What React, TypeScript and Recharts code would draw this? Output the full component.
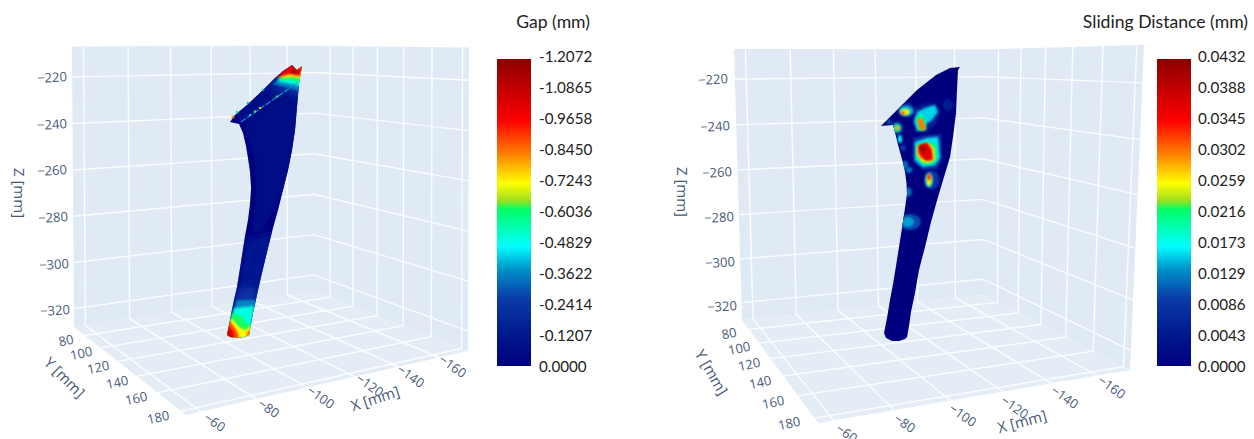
import React from 'react';
import { ComposedChart, Scatter, XAxis, YAxis } from 'recharts';

const WIDTH = 1254;
const HEIGHT = 439;

// tick values of the 3D scene
const xTicks = [-60, -80, -100, -120, -140, -160];
const yTicks = [80, 100, 120, 140, 160, 180];
const zTicks = [-220, -240, -260, -280, -300, -320];

const gapBarLabels = ['-1.2072', '-1.0865', '-0.9658', '-0.8450', '-0.7243', '-0.6036', '-0.4829', '-0.3622', '-0.2414', '-0.1207', '0.0000'];
const slidingBarLabels = ['0.0432', '0.0388', '0.0345', '0.0302', '0.0259', '0.0216', '0.0173', '0.0129', '0.0086', '0.0043', '0.0000'];

// jet scale (0 = bottom, 1 = top)
const jetStops: [number, string][] = [
  [0, '#00007f'], [0.11, '#001a90'], [0.22, '#0a3ca8'], [0.313, '#0090c8'], [0.39, '#00ffff'],
  [0.51, '#00ff66'], [0.54, '#9fe020'], [0.595, '#ffff00'], [0.69, '#ff8000'], [0.8, '#ff0000'], [1, '#8b0000'],
];

// projected outline of the stem, on the image plane
const gapOutline = [[302, 66], [297, 70], [292, 65], [283, 71], [275, 78], [263, 90], [247, 105], [235, 115], [230, 122], [239, 124], [243, 133], [246, 146], [248, 158], [250, 172], [251, 188], [250, 204], [248, 220], [245, 236], [241, 262], [237, 287], [234, 300], [231, 314], [229, 325], [227, 335], [230, 337], [237, 338], [244, 337], [249, 335], [253, 313], [257, 295], [261, 277], [267, 252], [273, 228], [278, 210], [283, 190], [288, 170], [292, 150], [295, 130], [297, 107], [299, 83]];
const slidingOutline = [[960, 67], [950, 68], [936, 75], [917, 90], [897, 110], [881, 126], [893, 125], [895, 132], [897, 141], [900, 152], [903, 163], [905, 172], [906.5, 183], [907, 194], [905, 208], [902, 228], [899, 247], [896, 266], [893, 284], [890, 300], [887, 318], [884, 333], [886, 338], [892, 341], [899, 341], [905, 339], [907, 337], [909, 326], [911, 312], [915, 293], [919, 270], [925, 247], [931, 222], [938, 197], [944, 177], [950, 157], [953, 137], [956, 113], [957, 90], [958, 70]];

const gapPatches = [
  { value: -0.04, blur: 'wide', points: [[244, 122], [300, 80], [300, 170], [283, 192], [262, 232], [252, 232], [256, 190], [254, 160]] },
  { value: -0.08, points: [[235, 116], [275, 78], [296, 68], [298, 84], [242, 122]] },
  { value: -0.13, blur: 'wide', points: [[246, 240], [274, 232], [264, 282], [236, 296]] },
  { value: -0.24, blur: 'wide', points: [[238, 288], [260, 286], [254, 315], [232, 315]] },
  { value: -0.36, points: [[237, 300], [256, 300], [254, 320], [231, 320]] },
  { value: -0.5, points: [[234, 308], [254, 306], [252, 325], [244, 328], [231, 322]] },
  { value: -0.62, points: [[232, 313], [243, 317], [246, 325], [252, 322], [250, 338], [228, 338]] },
  { value: -0.72, points: [[231, 318], [240, 328], [246, 330], [251, 325], [250, 338], [227, 338]] },
  { value: -0.9, points: [[229, 320], [237, 331], [239, 338], [226, 338]] },
  { value: -0.9, points: [[248, 332], [252, 328], [251, 338], [246, 338]] },
  { value: -1.05, points: [[227, 324], [233, 332], [234, 338], [225, 338]] },
  { value: -0.24, blur: 'wide', points: [[268, 90], [302, 68], [302, 100], [290, 92]] },
  { value: -0.36, points: [[272, 84], [302, 68], [302, 92], [290, 88]] },
  { value: -0.5, points: [[276, 81], [302, 66], [302, 87], [292, 84]] },
  { value: -0.62, points: [[277, 79], [302, 66], [302, 83], [292, 80]] },
  { value: -0.75, points: [[277, 78], [302, 64], [302, 79], [293, 77]] },
  { value: -1.0, points: [[277, 77], [291, 63], [297, 69], [304, 63], [300, 76], [290, 74]] },
  { value: -1.15, points: [[291, 68], [298, 71], [296, 74], [290, 72]] },
];

// edge of the top face
const gapRimLine = { value: -0.38, points: [[241, 122], [297, 83]] };
const gapRimSpots = [
  { value: -0.55, px: 250, py: 115, r: 1.1 },
  { value: -0.65, px: 255, py: 111.5, r: 1.2 }, { value: -0.78, px: 260, py: 108, r: 1.3 },
  { value: -0.62, px: 277, py: 96.5, r: 1.2 }, { value: -0.85, px: 233, py: 117, r: 1.6 },
  { value: -0.6, px: 237, py: 112, r: 1.5 }, { value: -0.4, px: 248, py: 103, r: 1.3 },
  { value: -0.4, px: 263, py: 90, r: 1.3 },
];

const gapSpots: { value: number; px: number; py: number; rx: number; ry: number }[] = [];

const slidingPatches = [
  { value: 0.006, points: [[915, 108], [925, 104], [935, 103], [940, 112], [935, 125], [926, 132], [916, 132], [913, 120]] },
  { value: 0.0155, points: [[917, 112], [925, 108], [935, 105], [938, 112], [932, 120], [925, 125], [924, 130], [917, 130], [914, 122]] },
  { value: 0.021, points: [[916, 118], [922, 114], [926, 122], [926, 130], [918, 131]] },
  { value: 0.03, points: [[917, 119], [922, 118], [926, 128], [923, 131], [919, 128]] },
  { value: 0.008, points: [[913, 138], [927, 135], [941, 134], [942, 160], [937, 169], [923, 170], [913, 162]] },
  { value: 0.016, points: [[915, 142], [927, 138], [938, 137], [940, 158], [935, 165], [923, 167], [915, 160]] },
  { value: 0.022, points: [[917, 145], [928, 142], [936, 145], [937, 158], [932, 164], [923, 164], [917, 157]] },
  { value: 0.026, points: [[917, 146], [928, 143], [934, 148], [935, 160], [928, 163], [922, 162], [917, 155]] },
  { value: 0.033, points: [[918, 146], [927, 143], [932, 149], [933, 160], [927, 161], [921, 158], [918, 153]] },
  { value: 0.037, points: [[919, 145], [927, 143], [931, 150], [932, 159], [925, 160], [920, 153]] },
  { value: 0.042, points: [[919, 147], [925, 145], [926, 150], [922, 152]] },
];

const slidingSpots = [
  { value: 0.005, px: 948, py: 105, rx: 5, ry: 6 },
  { value: 0.008, px: 932, py: 180, rx: 7.5, ry: 9.5 },
  { value: 0.015, px: 929, py: 180, rx: 4, ry: 7.5 },
  { value: 0.026, px: 929, py: 180, rx: 2.5, ry: 6 },
  { value: 0.034, px: 929, py: 177, rx: 1.5, ry: 3.5 },
  { value: 0.008, px: 907, py: 110, rx: 8, ry: 7 },
  { value: 0.015, px: 906, py: 111, rx: 7, ry: 5 },
  { value: 0.026, px: 905, py: 112, rx: 4.5, ry: 3 },
  { value: 0.033, px: 903, py: 113, rx: 2, ry: 1.5 },
  { value: 0.008, px: 897, py: 128, rx: 6, ry: 7 },
  { value: 0.02, px: 897, py: 128, rx: 4, ry: 4 },
  { value: 0.029, px: 897, py: 128, rx: 2.5, ry: 2 },
  { value: 0.017, px: 900, py: 139, rx: 2, ry: 4 },
  { value: 0.012, px: 905, py: 165, rx: 3, ry: 4 },
  { value: 0.012, px: 909, py: 170, rx: 3.5, ry: 3 },
  { value: 0.012, px: 908, py: 192, rx: 3.5, ry: 4.5 },
  { value: 0.01, px: 910, py: 222, rx: 11, ry: 8 },
  { value: 0.014, px: 908, py: 222, rx: 6, ry: 5 },
  { value: 0.009, px: 903, py: 148, rx: 3, ry: 3 },
  { value: 0.012, px: 889, py: 122, rx: 2, ry: 2 },
];

const xRange = [-55, -175];
const yRange = [65, 184];
const zRange = [-207, -328];

const gapScene = {
  id: 'gap',
  title: 'Gap (mm)', titleEnd: 590, barLeft: 497, labelLeft: 539, maxValue: -1.2072,
  A: [72, 46.5], B: [314, 46], E: [469, 47.5], F: [468, 351], C: [314, 291], D: [74, 327], G: [186, 415],
  xLabels: [[215, 422], [269, 408], [321, 397], [370, 385], [411, 376], [453, 366]],
  yLabels: [[66, 340], [81, 353], [98, 367], [117, 382], [136, 398], [158, 417]],
  zLabels: [[52, 77], [52, 124], [52, 170], [53, 217], [54, 264], [55, 310]],
  xTitle: [375, 398, -18], yTitle: [65, 377, 45], zTitle: [20, 193, 90],
  outline: gapOutline, patches: gapPatches, spots: gapSpots, rim: gapRimSpots, rimLine: gapRimLine, barLabels: gapBarLabels,
};
const slidingScene = {
  id: 'sliding',
  title: 'Sliding Distance (mm)', titleEnd: 1248, barLeft: 1157, labelLeft: 1198, maxValue: 0.0432,
  A: [734, 49], B: [983, 49.5], E: [1144, 45], F: [1130, 370], C: [983, 295], D: [742, 320], G: [818, 423],
  xLabels: [[847, 433], [905, 423], [963, 415], [1015, 407], [1065, 397], [1112, 387]],
  yLabels: [[729, 333], [739, 348], [749, 364], [760, 382], [773, 402], [789, 423]],
  zLabels: [[713, 79], [715, 126], [717, 172], [719, 217], [720, 262], [722, 306]],
  xTitle: [1022, 421, -15], yTitle: [712, 372, 60], zTitle: [683, 192, 90],
  outline: slidingOutline, patches: slidingPatches, spots: slidingSpots, rim: [], rimLine: null, barLabels: slidingBarLabels,
};

const BAR_TOP = 59;
const BAR_BOTTOM = 366;
const BAR_WIDTH = 34;

const hexToRgb = (h: string) => [1, 3, 5].map((i) => parseInt(h.slice(i, i + 2), 16));

const jet = (f: number) => {
  for (let i = 1; i < jetStops.length; i++) {
    if (f <= jetStops[i][0]) {
      const [o0, c0] = jetStops[i - 1];
      const [o1, c1] = jetStops[i];
      const t = (f - o0) / (o1 - o0);
      const a = hexToRgb(c0);
      const b = hexToRgb(c1);
      return `rgb(${a.map((v, k) => Math.round(v + (b[k] - v) * t)).join(',')})`;
    }
  }
  return jetStops[jetStops.length - 1][1];
};

// perspective map of the unit square on a quad
const quadMap = (p0: number[], p1: number[], p2: number[], p3: number[]) => {
  const dx1 = p1[0] - p2[0], dx2 = p3[0] - p2[0], sx = p0[0] - p1[0] + p2[0] - p3[0];
  const dy1 = p1[1] - p2[1], dy2 = p3[1] - p2[1], sy = p0[1] - p1[1] + p2[1] - p3[1];
  const den = dx1 * dy2 - dx2 * dy1;
  const g = (sx * dy2 - dx2 * sy) / den;
  const h = (dx1 * sy - sx * dy1) / den;
  const a = p1[0] - p0[0] + g * p1[0], b = p3[0] - p0[0] + h * p3[0];
  const d = p1[1] - p0[1] + g * p1[1], e = p3[1] - p0[1] + h * p3[1];
  return (u: number, v: number) => {
    const w = g * u + h * v + 1;
    return [(a * u + b * v + p0[0]) / w, (d * u + e * v + p0[1]) / w];
  };
};

const norm = (v: number, r: number[]) => (v - r[0]) / (r[1] - r[0]);
const toPoints = (pts: number[][]) => pts.map(([px, py]) => ({ px, py }));

// scatter shape that joins all its points, already scaled by the axes, into one path
const joinShape = (count: number, attrs: any, wrap?: any, open?: boolean) => {
  let seen: string[] = [];
  return (props: any) => {
    seen.push(`${props.cx},${props.cy}`);
    if (seen.length < count) return <g />;
    const points = seen.join(' ');
    seen = [];
    const el = open ? <polyline points={points} fill="none" {...attrs} /> : <polygon points={points} {...attrs} />;
    return wrap ? <g {...wrap}>{el}</g> : el;
  };
};

const textShape = (style: any) => (props: any) => {
  const { cx, cy, payload } = props;
  const { angle = 0, anchor = 'middle', text } = payload;
  return (
    <text x={cx} y={cy} textAnchor={anchor} dominantBaseline="central" transform={angle ? `rotate(${angle} ${cx} ${cy})` : undefined} {...style}>
      {text}
    </text>
  );
};

const poly = (key: string, pts: number[][], attrs: any, wrap?: any, open?: boolean) => (
  <Scatter key={key} data={toPoints(pts)} line={false} legendType="none" isAnimationActive={false} shape={joinShape(pts.length, attrs, wrap, open)} />
);

const gridAttrs = { stroke: '#ffffff', strokeWidth: 1.4, strokeOpacity: 0.9 };

const renderScene = (s: typeof gapScene) => {
  const floor = quadMap(s.D, s.C, s.F, s.G);
  const leftWall = quadMap(s.A, s.B, s.C, s.D);
  const rightWall = quadMap(s.B, s.E, s.F, s.C);
  const sceneFont = { fontFamily: '"Open Sans", sans-serif', fill: '#47597a' };
  const barFont = { fontFamily: 'Lato, sans-serif', fill: '#222222', fontSize: 15.2 };
  const softWrap = { clipPath: `url(#clip-${s.id})` };
  const out: React.ReactNode[] = [];

  [[s.A, s.B, s.C, s.D], [s.B, s.E, s.F, s.C], [s.D, s.C, s.F, s.G]].forEach((wall, i) => {
    out.push(poly(`${s.id}-wall-${i}`, wall, { fill: i === 2 ? '#e4edf6' : '#dfeaf5' }));
  });

  xTicks.forEach((t) => {
    const u = norm(t, xRange);
    out.push(poly(`${s.id}-x-${t}`, [leftWall(u, 0), leftWall(u, 1), floor(u, 1)], gridAttrs, undefined, true));
  });
  yTicks.forEach((t) => {
    const v = norm(t, yRange);
    out.push(poly(`${s.id}-y-${t}`, [rightWall(v, 0), rightWall(v, 1), floor(0, v)], gridAttrs, undefined, true));
  });
  zTicks.forEach((t) => {
    const v = norm(t, zRange);
    out.push(poly(`${s.id}-z-${t}`, [leftWall(0, v), leftWall(1, v), rightWall(1, v)], gridAttrs, undefined, true));
  });

  // stem
  out.push(poly(`${s.id}-stem`, s.outline, { fill: jet(0) }));
  s.patches.forEach((p: any, i) => {
    out.push(poly(`${s.id}-patch-${i}`, p.points, { filter: p.blur === 'wide' ? 'url(#softWide)' : 'url(#soft)', fill: jet(p.value / s.maxValue) }, softWrap));
  });
  s.spots.forEach((p, i) => {
    out.push(
      <Scatter
        key={`${s.id}-spot-${i}`}
        data={[p]}
        line={false}
        legendType="none"
        isAnimationActive={false}
        shape={(props: any) => (
          <g {...softWrap}>
            <ellipse cx={props.cx} cy={props.cy} rx={p.rx} ry={p.ry} fill={jet(p.value / s.maxValue)} filter="url(#soft)" />
          </g>
        )}
      />,
    );
  });
  if (s.rimLine) {
    out.push(poly(`${s.id}-rimLine`, s.rimLine.points, { stroke: jet(s.rimLine.value / s.maxValue), strokeWidth: 1.3, strokeDasharray: '6 1.5' }, undefined, true));
  }
  s.rim.forEach((p, i) => {
    out.push(
      <Scatter
        key={`${s.id}-rim-${i}`}
        data={[p]}
        line={false}
        legendType="none"
        isAnimationActive={false}
        shape={(props: any) => <circle cx={props.cx} cy={props.cy} r={p.r} fill={jet(p.value / s.maxValue)} opacity={0.85} />}
      />,
    );
  });

  // tick labels and axis titles
  const tickText = [
    ...xTicks.map((t, i) => ({ px: s.xLabels[i][0], py: s.xLabels[i][1], text: `\u2212${Math.abs(t)}`, angle: 35 })),
    ...yTicks.map((t, i) => ({ px: s.yLabels[i][0], py: s.yLabels[i][1], text: `${t}`, angle: -12 })),
    ...zTicks.map((t, i) => ({ px: s.zLabels[i][0], py: s.zLabels[i][1], text: `\u2212${Math.abs(t)}`, angle: -3 })),
  ];
  out.push(<Scatter key={`${s.id}-ticks`} data={tickText} line={false} legendType="none" isAnimationActive={false} shape={textShape({ ...sceneFont, fontSize: 13 })} />);
  const titles = [
    { px: s.xTitle[0], py: s.xTitle[1], angle: s.xTitle[2], text: 'X [mm]' },
    { px: s.yTitle[0], py: s.yTitle[1], angle: s.yTitle[2], text: 'Y [mm]' },
    { px: s.zTitle[0], py: s.zTitle[1], angle: s.zTitle[2], text: 'Z [mm]' },
  ];
  out.push(<Scatter key={`${s.id}-titles`} data={titles} line={false} legendType="none" isAnimationActive={false} shape={textShape({ ...sceneFont, fontSize: 15 })} />);

  // colour bar
  out.push(poly(`${s.id}-bar`, [[s.barLeft, BAR_TOP], [s.barLeft + BAR_WIDTH, BAR_TOP], [s.barLeft + BAR_WIDTH, BAR_BOTTOM], [s.barLeft, BAR_BOTTOM]], { fill: 'url(#jet)' }));
  const barText = s.barLabels.map((text, i) => ({
    px: s.labelLeft,
    py: 56 + (i * (366 - 56)) / (s.barLabels.length - 1),
    text,
    anchor: 'start',
  }));
  out.push(<Scatter key={`${s.id}-barText`} data={barText} line={false} legendType="none" isAnimationActive={false} shape={textShape(barFont)} />);
  out.push(<Scatter key={`${s.id}-title`} data={[{ px: s.titleEnd, py: 21, text: s.title, anchor: 'end' }]} line={false} legendType="none" isAnimationActive={false} shape={textShape({ ...barFont, fontSize: 17.6 })} />);
  return out;
};

const App = () => (
  <div style={{ position: 'absolute', left: 0, top: 0, width: WIDTH, height: HEIGHT, background: '#fff' }}>
    <ComposedChart width={WIDTH} height={HEIGHT} margin={{ top: 0, right: 0, bottom: 0, left: 0 }}>
      <defs>
        <linearGradient id="jet" x1="0" y1="1" x2="0" y2="0">
          {jetStops.map(([o, c]) => <stop key={o} offset={o} stopColor={c} />)}
        </linearGradient>
        <filter id="soft" x="-40%" y="-40%" width="180%" height="180%">
          <feGaussianBlur stdDeviation="1.1" />
        </filter>
        <filter id="softWide" x="-40%" y="-40%" width="180%" height="180%">
          <feGaussianBlur stdDeviation="4" />
        </filter>
        <clipPath id="clip-gap"><polygon points={gapOutline.map((p) => p.join(',')).join(' ')} /></clipPath>
        <clipPath id="clip-sliding"><polygon points={slidingOutline.map((p) => p.join(',')).join(' ')} /></clipPath>
      </defs>
      <XAxis dataKey="px" type="number" domain={[0, WIDTH]} hide allowDataOverflow />
      <YAxis dataKey="py" type="number" domain={[0, HEIGHT]} reversed hide allowDataOverflow />
      {renderScene(gapScene)}
      {renderScene(slidingScene)}
    </ComposedChart>
  </div>
);

export default App;
